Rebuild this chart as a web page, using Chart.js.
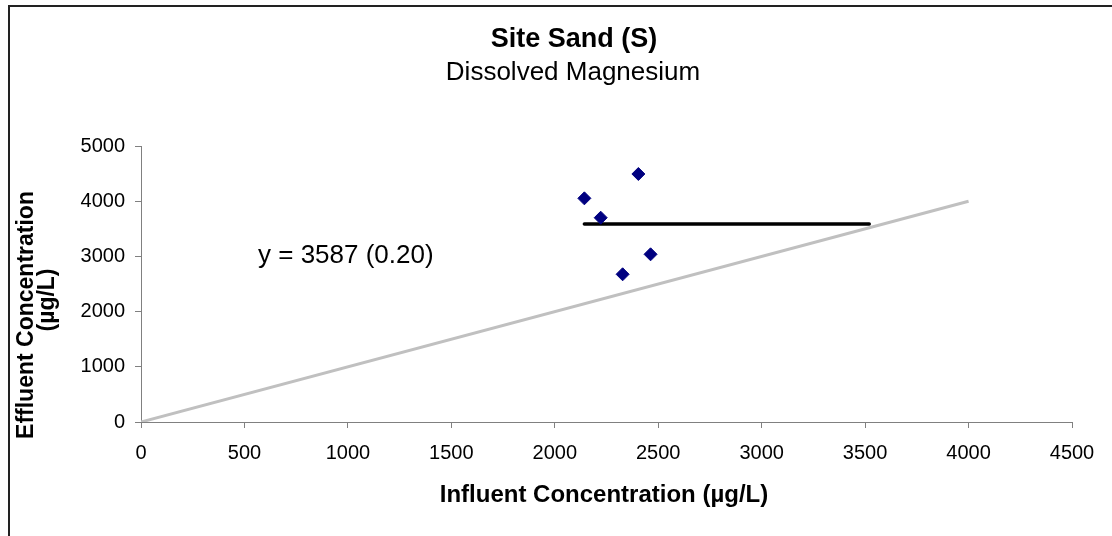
<!DOCTYPE html>
<html>
<head>
<meta charset="utf-8">
<script src="https://cdn.jsdelivr.net/npm/chart.js@4/dist/chart.umd.min.js"></script>
<style>
  html, body { margin: 0; padding: 0; background: #fff; }
  #wrap { position: relative; width: 1112px; height: 536px; }
</style>
</head>
<body>
<div id="wrap"><canvas id="c" width="1112" height="536"></canvas></div>
<script>
// ---- data ----
const titleText = "Site Sand (S)";
const subtitleText = "Dissolved Magnesium";
const xAxisTitle = "Influent Concentration (µg/L)";
const yAxisTitle = ["Effluent Concentration", "(µg/L)"];
const annotationText = "y = 3587 (0.20)";

const influent = [2143, 2222, 2404, 2463, 2328];
const effluent = [4052, 3701, 4493, 3038, 2676];

const meanLineX = [2143, 3520];
const meanLineY = [3587, 3587];

const oneToOneX = [0, 4000];
const oneToOneY = [0, 4000];

const xTicks = [0, 500, 1000, 1500, 2000, 2500, 3000, 3500, 4000, 4500];
const yTicks = [0, 1000, 2000, 3000, 4000, 5000];

const FONT = '"Liberation Sans", Arial, sans-serif';

const toPts = (xs, ys) => xs.map((x, i) => ({ x: x, y: ys[i] }));

const textPlugin = {
  id: 'texts',
  afterDraw(chart) {
    const ctx = chart.ctx;
    ctx.save();
    // frame
    ctx.strokeStyle = '#222';
    ctx.lineWidth = 2;
    ctx.beginPath();
    ctx.moveTo(1112, 6);
    ctx.lineTo(9, 6);
    ctx.lineTo(9, 536);
    ctx.stroke();

    ctx.fillStyle = '#000';
    ctx.textAlign = 'center';
    ctx.textBaseline = 'middle';
    ctx.font = 'bold 27px ' + FONT;
    ctx.fillText(titleText, 574, 40);
    ctx.font = '26px ' + FONT;
    ctx.fillText(subtitleText, 573, 73);

    ctx.font = 'bold 24px ' + FONT;
    ctx.fillText(xAxisTitle, 604, 495);

    ctx.font = 'bold 23px ' + FONT;
    ctx.save();
    ctx.translate(27, 315);
    ctx.rotate(-Math.PI / 2);
    ctx.fillText(yAxisTitle[0], 0, 0);
    ctx.restore();
    ctx.save();
    ctx.translate(48, 300);
    ctx.rotate(-Math.PI / 2);
    ctx.fillText(yAxisTitle[1], 0, 0);
    ctx.restore();

    ctx.textAlign = 'left';
    ctx.font = '26px ' + FONT;
    ctx.fillText(annotationText, 258, 256);
    ctx.restore();
  }
};

new Chart(document.getElementById('c'), {
  type: 'scatter',
  data: {
    datasets: [
      {
        label: '1:1',
        data: toPts(oneToOneX, oneToOneY),
        showLine: true,
        borderColor: '#c0c0c0',
        borderWidth: 3,
        pointRadius: 0,
        order: 3
      },
      {
        label: 'mean',
        data: toPts(meanLineX, meanLineY),
        showLine: true,
        borderColor: '#000',
        borderWidth: 3.5,
        borderCapStyle: 'round',
        pointRadius: 0,
        order: 2
      },
      {
        label: 'data',
        data: toPts(influent, effluent),
        pointStyle: 'rectRot',
        pointRadius: 6.5,
        backgroundColor: '#000080',
        borderColor: '#000080',
        borderWidth: 1,
        order: 1
      }
    ]
  },
  options: {
    responsive: false,
    animation: false,
    devicePixelRatio: 1,
    layout: { padding: { left: 0, right: 40, top: 146, bottom: 0 } },
    plugins: { legend: { display: false }, tooltip: { enabled: false }, title: { display: false } },
    scales: {
      x: {
        type: 'linear',
        min: 0, max: 4500,
        afterBuildTicks: (s) => { s.ticks = xTicks.map(v => ({ value: v })); },
        afterFit: (s) => { s.height = 114; },
        grid: { drawOnChartArea: false, tickLength: 6, color: '#808080', lineWidth: 1 },
        border: { color: '#808080', width: 1 },
        ticks: { color: '#000', font: { family: FONT, size: 20 }, padding: 13, maxRotation: 0,
                 callback: (v) => String(v) }
      },
      y: {
        type: 'linear',
        min: 0, max: 5000,
        afterBuildTicks: (s) => { s.ticks = yTicks.map(v => ({ value: v })); },
        afterFit: (s) => { s.width = 141; },
        grid: { drawOnChartArea: false, tickLength: 6, color: '#808080', lineWidth: 1 },
        border: { color: '#808080', width: 1 },
        ticks: { color: '#000', font: { family: FONT, size: 20 }, padding: 10,
                 callback: (v) => String(v) }
      }
    }
  },
  plugins: [textPlugin]
});
</script>
</body>
</html>
